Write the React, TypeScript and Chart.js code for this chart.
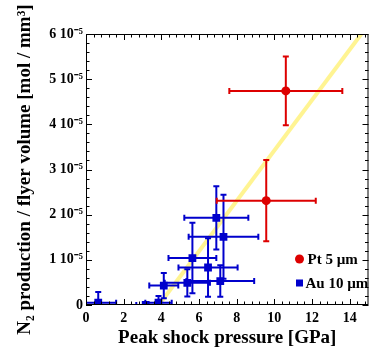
import React, { useEffect, useRef } from 'react';
import { Chart, registerables } from 'chart.js';

Chart.register(...registerables);

// Values of N2 production are in units of 1e-5 mol / mm^3
const yTickLabels = ['0', '1 10⁻⁵', '2 10⁻⁵', '3 10⁻⁵', '4 10⁻⁵', '5 10⁻⁵', '6 10⁻⁵'];

const ptPressure = [10.61, 9.57];
const ptN2 = [4.74, 2.31];
const ptPressureErr = [3.0, 2.63];
const ptN2Err = [0.76, 0.9];

const auPressure = [0.65, 3.17, 3.85, 4.13, 5.38, 5.65, 6.48, 6.92, 7.3, 7.13];
const auN2 = [0.05, 0.0, 0.05, 0.43, 0.49, 1.04, 0.83, 1.93, 1.51, 0.53];
const auPressureErr = [0.95, 0.5, 0.7, 0.77, 1.2, 1.27, 1.57, 1.7, 1.85, 1.8];
const auN2Err = [0.24, 0.05, 0.15, 0.28, 0.3, 0.78, 0.65, 0.7, 0.93, 0.35];

const fitPressure = [3.87, 14.62];
const fitN2 = [0, 6];

const RED = '#dd0000';
const BLUE = '#0000cc';
const FAMILY = "'Liberation Serif', 'Times New Roman', serif";

const errorBarPlugin = {
  id: 'errorBars',
  beforeDatasetDraw(chart: any, args: any) {
    const ds = chart.data.datasets[args.index];
    if (!ds.errX) return;
    const { ctx, chartArea, scales } = chart;
    const xs = scales.x;
    const ys = scales.y;
    const cap = 3;
    ctx.save();
    ctx.beginPath();
    ctx.rect(chartArea.left, chartArea.top, chartArea.right - chartArea.left, chartArea.bottom - chartArea.top);
    ctx.clip();
    ctx.strokeStyle = ds.borderColor;
    ctx.lineWidth = 2;
    ds.data.forEach((p: any, i: number) => {
      const px = xs.getPixelForValue(p.x);
      const py = ys.getPixelForValue(p.y);
      const x0 = xs.getPixelForValue(p.x - ds.errX[i]);
      const x1 = xs.getPixelForValue(p.x + ds.errX[i]);
      const y0 = ys.getPixelForValue(p.y - ds.errY[i]);
      const y1 = ys.getPixelForValue(p.y + ds.errY[i]);
      ctx.beginPath();
      ctx.moveTo(x0, py); ctx.lineTo(x1, py);
      ctx.moveTo(x0, py - cap); ctx.lineTo(x0, py + cap);
      ctx.moveTo(x1, py - cap); ctx.lineTo(x1, py + cap);
      ctx.moveTo(px, y0); ctx.lineTo(px, y1);
      ctx.moveTo(px - cap, y0); ctx.lineTo(px + cap, y0);
      ctx.moveTo(px - cap, y1); ctx.lineTo(px + cap, y1);
      ctx.stroke();
    });
    ctx.restore();
  },
};

const framePlugin = {
  id: 'frame',
  afterDatasetsDraw(chart: any) {
    const { ctx, chartArea, scales } = chart;
    const { left, right, top, bottom } = chartArea;
    const xs = scales.x;
    const ys = scales.y;
    ctx.save();
    ctx.strokeStyle = '#000';
    ctx.lineWidth = 1;
    ctx.strokeRect(left + 0.5, top + 0.5, right - left - 1, bottom - top - 1);
    ctx.beginPath();
    for (let k = 0; k * 0.4 <= 15.001; k++) {
      const v = k * 0.4;
      const len = k % 5 === 0 ? 6 : 3.5;
      const px = Math.round(xs.getPixelForValue(v)) + 0.5;
      ctx.moveTo(px, bottom); ctx.lineTo(px, bottom - len);
      ctx.moveTo(px, top); ctx.lineTo(px, top + len);
    }
    for (let k = 0; k <= 30; k++) {
      const v = k * 0.2;
      const len = k % 5 === 0 ? 6 : 3.5;
      const py = Math.round(ys.getPixelForValue(v)) + 0.5;
      ctx.moveTo(left, py); ctx.lineTo(left + len, py);
      ctx.moveTo(right, py); ctx.lineTo(right - len, py);
    }
    ctx.stroke();
    ctx.restore();
  },
  afterDraw(chart: any) {
    const { ctx, chartArea } = chart;
    const r = chartArea.right;
    ctx.save();
    ctx.font = `bold 15px ${FAMILY}`;
    ctx.textBaseline = 'middle';
    ctx.textAlign = 'left';
    ctx.fillStyle = RED;
    ctx.beginPath();
    ctx.arc(r - 69, 259, 4.5, 0, Math.PI * 2);
    ctx.fill();
    ctx.fillStyle = BLUE;
    ctx.fillRect(r - 72.5, 279.5, 7, 7);
    ctx.fillStyle = '#000';
    ctx.fillText('Pt 5 µm', r - 61, 260);
    ctx.fillText('Au 10 µm', r - 63, 284);
    ctx.restore();
  },
};

export default function App() {
  const ref = useRef<HTMLCanvasElement | null>(null);
  useEffect(() => {
    if (!ref.current) return;
    const tickFont = { family: FAMILY, size: 14, weight: 'bold' as const };
    const titleFont = { family: FAMILY, size: 19, weight: 'bold' as const };
    const chart = new Chart(ref.current, {
      type: 'scatter',
      data: {
        datasets: [
          {
            label: 'Pt 5 µm',
            data: ptPressure.map((x, i) => ({ x, y: ptN2[i] })),
            errX: ptPressureErr,
            errY: ptN2Err,
            backgroundColor: RED,
            borderColor: RED,
            pointStyle: 'circle',
            pointRadius: 4.5,
            borderWidth: 0,
            order: 1,
          } as any,
          {
            label: 'Au 10 µm',
            data: auPressure.map((x, i) => ({ x, y: auN2[i] })),
            errX: auPressureErr,
            errY: auN2Err,
            backgroundColor: BLUE,
            borderColor: BLUE,
            pointStyle: 'rect',
            pointRadius: 5.5,
            borderWidth: 0,
            order: 2,
          } as any,
          {
            type: 'line',
            label: 'fit',
            data: fitPressure.map((x, i) => ({ x, y: fitN2[i] })),
            borderColor: 'rgba(255, 240, 110, 0.75)',
            borderWidth: 4,
            pointRadius: 0,
            showLine: true,
            fill: false,
            order: 3,
          } as any,
        ],
      },
      options: {
        animation: false,
        responsive: true,
        maintainAspectRatio: false,
        layout: { padding: { top: 34, right: 2, left: 0, bottom: 0 } },
        plugins: { legend: { display: false }, tooltip: { enabled: false } },
        scales: {
          x: {
            type: 'linear',
            min: 0,
            max: 15,
            grid: { display: false, drawTicks: false },
            border: { display: false },
            ticks: {
              stepSize: 2,
              includeBounds: false,
              padding: 5,
              color: '#000',
              font: tickFont,
              maxRotation: 0,
              autoSkip: false,
            },
            title: {
              display: true,
              text: 'Peak shock pressure [GPa]',
              color: '#000',
              font: titleFont,
              padding: { top: 0, bottom: 1 },
            },
            afterFit: (s: any) => { s.height = 45; },
          },
          y: {
            type: 'linear',
            min: 0,
            max: 6,
            grid: { display: false, drawTicks: false },
            border: { display: false },
            ticks: {
              stepSize: 1,
              includeBounds: false,
              padding: 3,
              color: '#000',
              font: tickFont,
              autoSkip: false,
              callback: (v: any) => yTickLabels[Math.round(Number(v))] ?? '',
            },
            title: {
              display: true,
              text: 'N₂ production / flyer volume [mol / mm³]',
              color: '#000',
              font: titleFont,
              padding: { top: 14, bottom: 0 },
            },
            afterFit: (s: any) => { s.width = 86; },
          },
        },
      } as any,
      plugins: [errorBarPlugin, framePlugin],
    });
    return () => chart.destroy();
  }, []);
  return (
    <div style={{ position: 'fixed', left: 0, top: 0, width: 374, height: 350, background: '#fff' }}>
      <canvas ref={ref} />
    </div>
  );
}
